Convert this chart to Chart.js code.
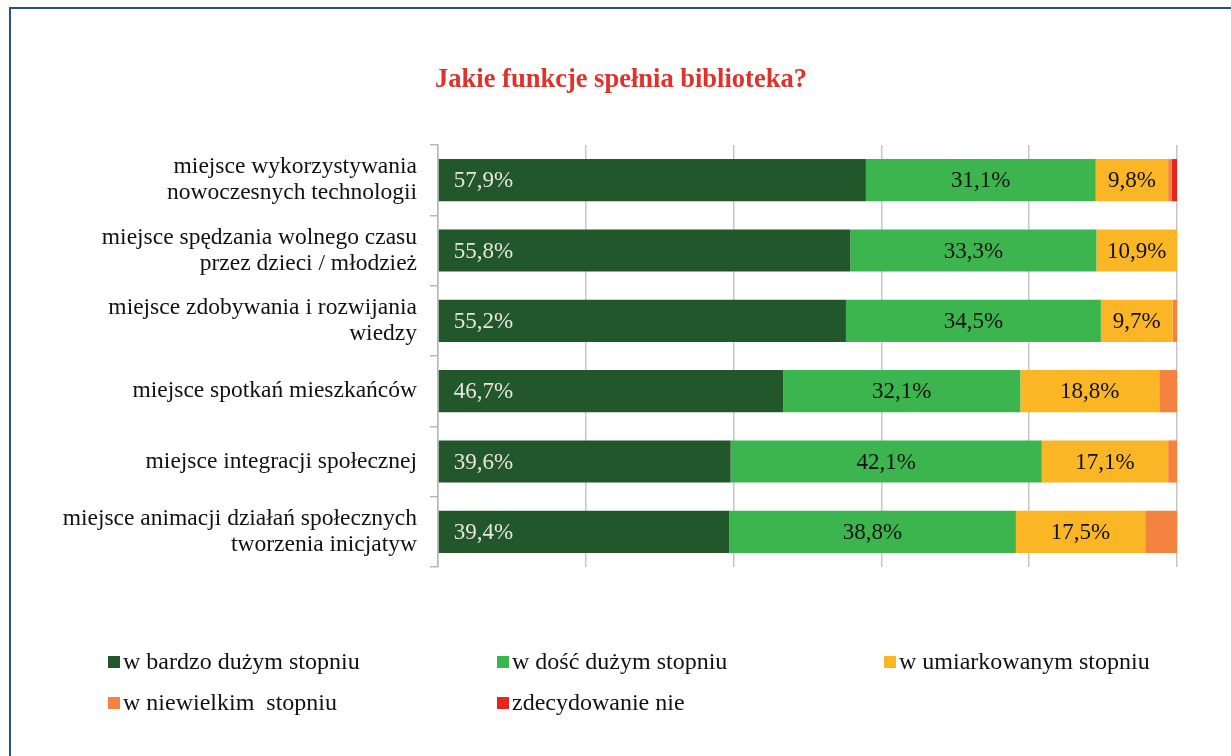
<!DOCTYPE html>
<html>
<head>
<meta charset="utf-8">
<script src="https://cdn.jsdelivr.net/npm/chart.js@4"></script>
<style>
html,body{margin:0;padding:0;background:#fff;width:1231px;height:756px;overflow:hidden;}
#frame{position:absolute;left:9px;top:7px;width:1300px;height:800px;border-left:2px solid #2b4f86;border-top:2px solid #2b4f86;}
#wrap{position:absolute;left:0;top:0;width:1231px;height:756px;}
.leg{position:absolute;font-family:"Liberation Serif",serif;font-size:24px;color:#111;white-space:pre;line-height:24px;}
.leg i{display:inline-block;width:12px;height:12px;margin-right:3px;vertical-align:1px;}
</style>
</head>
<body>
<div id="frame"></div>
<div id="wrap"><canvas id="c" width="1231" height="756"></canvas></div>
<div id="legend"></div>
<script>
const categories = [
  ["miejsce wykorzystywania","nowoczesnych technologii"],
  ["miejsce spędzania wolnego czasu","przez dzieci / młodzież"],
  ["miejsce zdobywania i rozwijania","wiedzy"],
  ["miejsce spotkań mieszkańców"],
  ["miejsce integracji społecznej"],
  ["miejsce animacji działań społecznych","tworzenia inicjatyw"]
];
const seriesNames = ["w bardzo dużym stopniu","w dość dużym stopniu","w umiarkowanym stopniu","w niewielkim  stopniu","zdecydowanie nie"];
const bardzoDuzym   = [57.9, 55.8, 55.2, 46.7, 39.6, 39.4];
const doscDuzym     = [31.1, 33.3, 34.5, 32.1, 42.1, 38.8];
const umiarkowanym  = [9.8, 10.9, 9.7, 18.8, 17.1, 17.5];
const niewielkim    = [0.5, 0.0, 0.6, 2.4, 1.2, 4.3];
const zdecydowanieNie = [0.7, 0.0, 0.0, 0.0, 0.0, 0.0];
const xTicks = [0, 20, 40, 60, 80, 100];
const colors = ["#22572b","#3db54f","#fbb626","#f4833f","#e5251f"];
const labelColors = ["#e6e6dc","#111","#111",null,null];
const seriesData = [bardzoDuzym, doscDuzym, umiarkowanym, niewielkim, zdecydowanieNie];

const FONT = "'Liberation Serif', serif";

const labelPlugin = {
  id:'valLabels',
  afterDatasetsDraw(chart){
    const ctx = chart.ctx;
    ctx.save();
    ctx.font = "23px " + FONT;
    ctx.textBaseline = 'middle';
    chart.data.datasets.forEach((ds, di) => {
      if (!labelColors[di]) return;
      const meta = chart.getDatasetMeta(di);
      meta.data.forEach((bar, i) => {
        const v = ds.data[i];
        const txt = v.toFixed(1).replace('.', ',') + '%';
        ctx.fillStyle = labelColors[di];
        if (di === 0) {
          ctx.textAlign = 'left';
          ctx.fillText(txt, bar.base + 15, bar.y + 1);
        } else {
          ctx.textAlign = 'center';
          ctx.fillText(txt, (bar.base + bar.x) / 2, bar.y + 1);
        }
      });
    });
    ctx.font = "bold 26.5px " + FONT;
    ctx.fillStyle = "#e0312a";
    ctx.textAlign = 'center';
    ctx.fillText("Jakie funkcje spełnia biblioteka?", 621, 80);
    ctx.restore();
  }
};

new Chart(document.getElementById('c'), {
  type: 'bar',
  data: {
    labels: categories,
    datasets: seriesData.map((d, i) => ({
      label: seriesNames[i],
      data: d,
      backgroundColor: colors[i],
      borderWidth: 0,
      barPercentage: 0.6,
      categoryPercentage: 1.0
    }))
  },
  options: {
    indexAxis: 'y',
    responsive: false,
    animation: false,
    devicePixelRatio: 1,
    layout: { padding: { left: 0, right: 54, top: 145, bottom: 189 } },
    plugins: { legend: { display: false }, title: { display: false }, tooltip: { enabled: false } },
    scales: {
      x: {
        stacked: true, min: 0, max: 100,
        afterBuildTicks(s){ s.ticks = xTicks.map(v => ({value: v})); },
        afterFit(s){ s.height = 0; },
        ticks: { display: false },
        grid: { color: '#c6c6c6', lineWidth: 1.5, drawTicks: false },
        border: { display: false }
      },
      y: {
        stacked: true,
        afterFit(s){ s.width = 438; },
        ticks: { color: '#111', font: { family: FONT, size: 23.5, lineHeight: 1.1 }, padding: 13 },
        grid: { drawOnChartArea: false, color: '#b8b8b8', tickLength: 8, offset: true, lineWidth: 1.5 },
        border: { display: true, color: '#b8b8b8', width: 1.5 }
      }
    }
  },
  plugins: [labelPlugin]
});

const legPos = [[108,649],[497,649],[884,649],[108,690],[497,690]];
const legEl = document.getElementById('legend');
seriesNames.forEach((n, i) => {
  const d = document.createElement('div');
  d.className = 'leg';
  d.style.left = legPos[i][0] + 'px';
  d.style.top = legPos[i][1] + 'px';
  d.innerHTML = '<i style="background:' + colors[i] + '"></i>' + n;
  legEl.appendChild(d);
});
</script>
</body>
</html>
